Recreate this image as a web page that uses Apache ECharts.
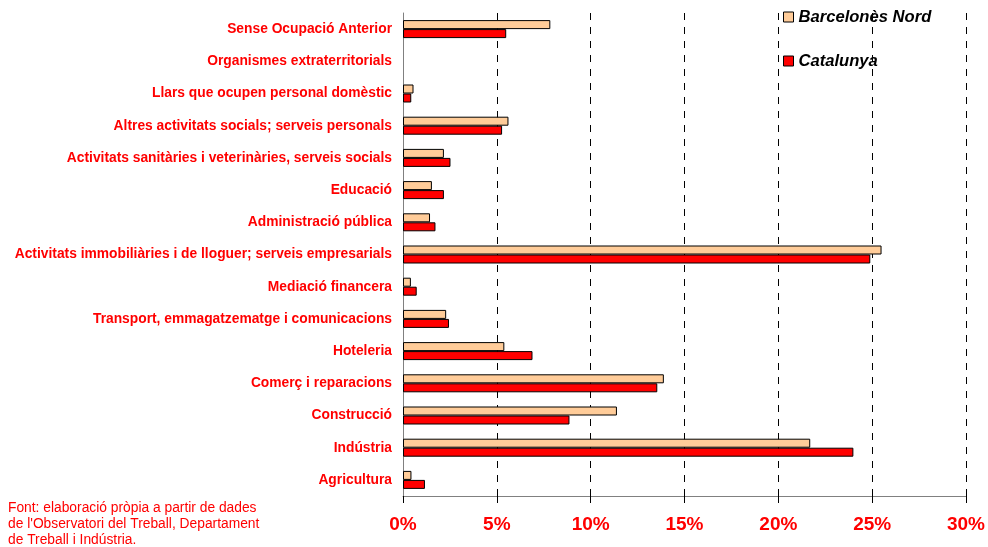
<!DOCTYPE html>
<html>
<head>
<meta charset="utf-8">
<script src="https://cdn.jsdelivr.net/npm/echarts@6/dist/echarts.min.js"></script>
<style>
html,body{margin:0;padding:0;background:#fff;}
#chart{width:988px;height:547px;}
</style>
</head>
<body>
<div id="chart"></div>
<script>
const categories = [
  'Agricultura',
  'Indústria',
  'Construcció',
  'Comerç i reparacions',
  'Hoteleria',
  'Transport, emmagatzematge i comunicacions',
  'Mediació financera',
  'Activitats immobiliàries i de lloguer; serveis empresarials',
  'Administració pública',
  'Educació',
  'Activitats sanitàries i veterinàries, serveis socials',
  'Altres activitats socials; serveis personals',
  'Llars que ocupen personal domèstic',
  'Organismes extraterritorials',
  'Sense Ocupació Anterior'
];
const barcelonesNord = [0.45, 21.7, 11.4, 13.9, 5.4, 2.3, 0.42, 25.5, 1.44, 1.54, 2.18, 5.62, 0.56, 0, 7.85];
const catalunya      = [1.17, 24.0, 8.87, 13.55, 6.9, 2.45, 0.73, 24.9, 1.73, 2.18, 2.53, 5.28, 0.44, 0, 5.5];
const xTicks = [0, 5, 10, 15, 20, 25, 30];
const seriesNames = ['Barcelonès Nord', 'Catalunya'];
const footnote = "Font: elaboració pròpia a partir de dades\nde l'Observatori del Treball, Departament\nde Treball i Indústria.";

const FONT = 'Arial, "Liberation Sans", sans-serif';
const hideZero = arr => arr.map(v => (v === 0 ? null : v));
const chart = echarts.init(document.getElementById('chart'), null, {renderer: 'canvas'});
chart.setOption({
  animation: false,
  backgroundColor: '#ffffff',
  grid: {left: 403, right: 21, top: 13, bottom: 51, containLabel: false},
  legend: {
    data: seriesNames,
    orient: 'vertical',
    left: 783,
    top: 7,
    padding: 0,
    itemWidth: 10,
    itemHeight: 10,
    itemGap: 24,
    icon: 'rect',
    textStyle: {fontFamily: FONT, fontSize: 16.6, fontWeight: 'bold', fontStyle: 'italic', color: '#000', lineHeight: 20},
    itemStyle: {borderColor: '#000', borderWidth: 1}
  },
  graphic: [{
    type: 'text',
    left: 8,
    top: 500,
    style: {text: footnote, fontFamily: FONT, fontSize: 13.8, lineHeight: 16, fill: '#ff0000'}
  }],
  xAxis: {
    type: 'value',
    min: xTicks[0],
    max: xTicks[xTicks.length - 1],
    interval: 5,
    axisLine: {show: true, lineStyle: {color: '#808080', width: 1}},
    axisTick: {show: true, length: 7, lineStyle: {color: '#000'}},
    axisLabel: {formatter: '{value}%', fontFamily: FONT, fontSize: 19, fontWeight: 'bold', color: '#ff0000', margin: 19},
    splitLine: {show: true, lineStyle: {color: '#000', type: [7, 7], width: 1}}
  },
  yAxis: {
    type: 'category',
    data: categories,
    axisLine: {show: true, lineStyle: {color: '#808080', width: 1}},
    axisTick: {show: false},
    axisLabel: {fontFamily: FONT, fontSize: 13.8, fontWeight: 'bold', color: '#ff0000', margin: 11}
  },
  series: [
    {
      name: seriesNames[0],
      type: 'bar',
      data: hideZero(barcelonesNord),
      barWidth: 9,
      barGap: '0%',
      itemStyle: {color: '#ffcc99', borderColor: '#000', borderWidth: 1}
    },
    {
      name: seriesNames[1],
      type: 'bar',
      data: hideZero(catalunya),
      barWidth: 9,
      barGap: '0%',
      itemStyle: {color: '#ff0000', borderColor: '#000', borderWidth: 1}
    }
  ]
});
</script>
</body>
</html>
